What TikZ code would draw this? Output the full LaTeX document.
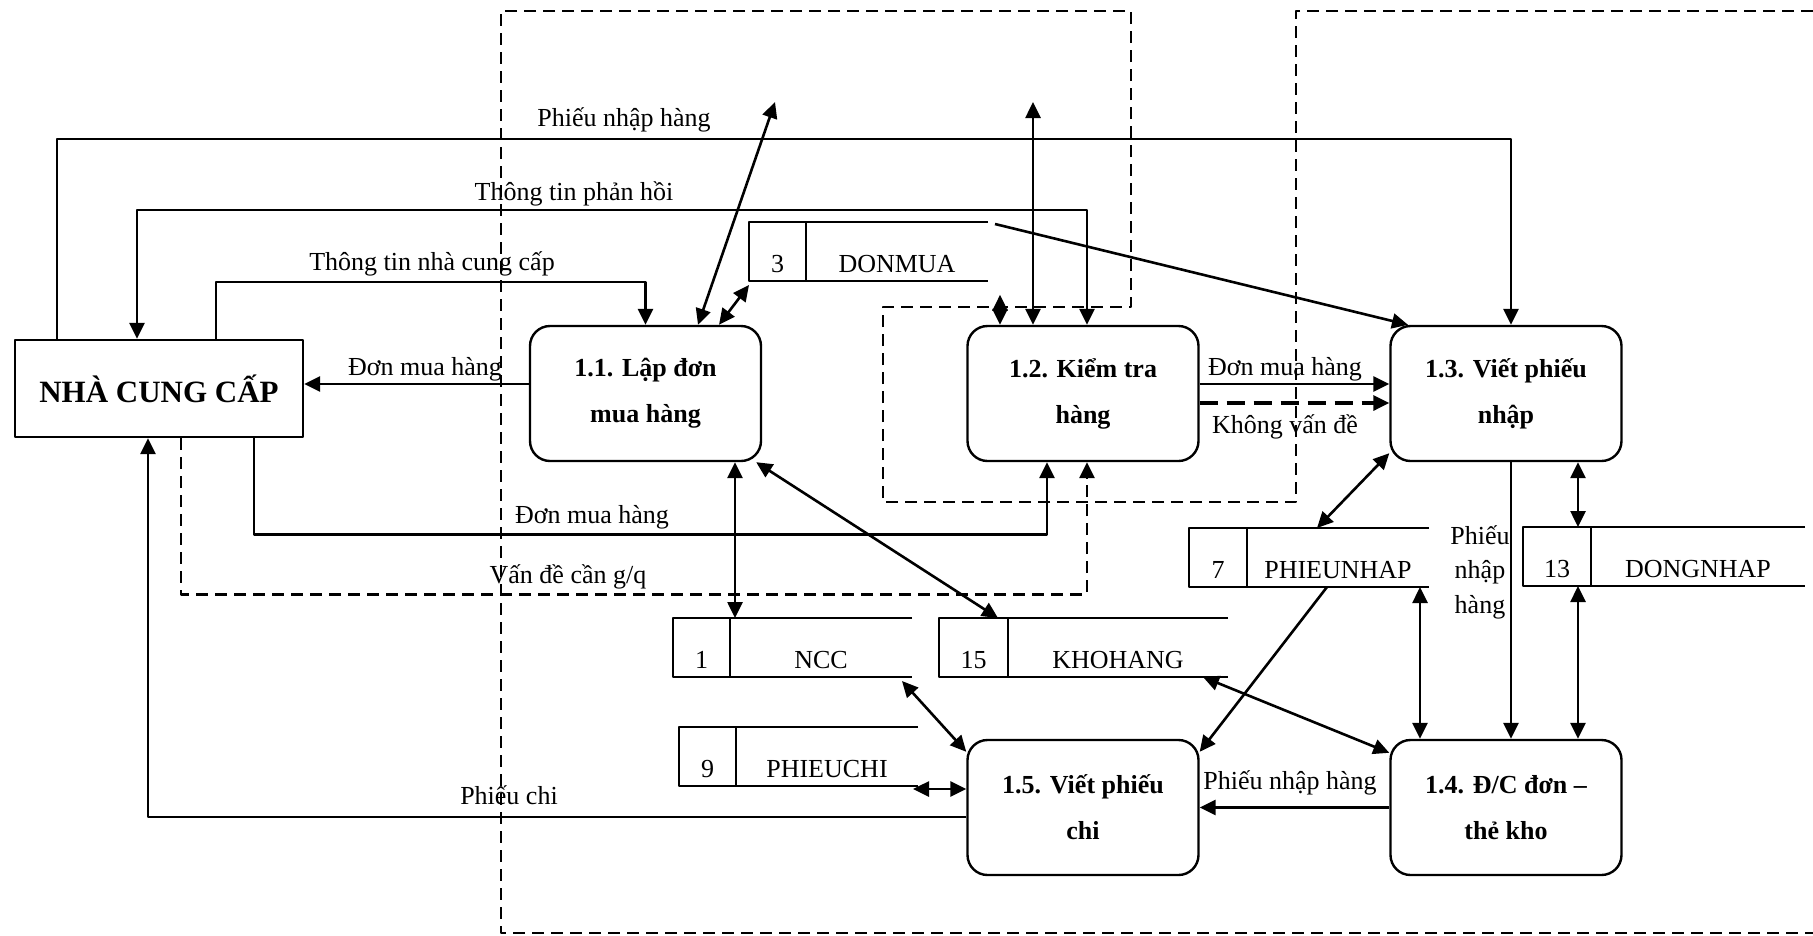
\documentclass[tikz,border=0pt]{standalone}
\usepackage{fontspec}
\setmainfont{Liberation Serif}
\usetikzlibrary{arrows.meta}

\begin{document}
\begin{tikzpicture}[x=1pt, y=-1pt, line join=round, line width=2.6pt,
		font=\fontsize{26}{31}\selectfont, >={Triangle[length=16pt,width=15pt]},
		proc/.style={draw, line width=2.4pt, rounded corners=20pt, minimum width=231pt, minimum height=135pt,
			inner sep=0pt, align=center, font=\fontsize{26}{46}\selectfont\bfseries},
		ext/.style={draw, line width=2.4pt, minimum width=288pt, minimum height=97pt, inner sep=0pt,
			font=\fontsize{31}{37}\selectfont\bfseries},
		store/.style={line width=2.4pt},
		lbl/.style={anchor=base, inner sep=0pt},
		bound/.style={line width=2.2pt, dash pattern=on 12pt off 7pt},
		gq/.style={dash pattern=on 12pt off 7pt},
		ok/.style={line width=3.2pt, dash pattern=on 18pt off 9pt}]
	\useasboundingbox (0,0) rectangle (1813,935);

	\draw[bound] (1813,11) -- (1296,11) -- (1296,502) -- (883,502) -- (883,307) -- (1131,307)
		-- (1131,11) -- (501,11) -- (501,933) -- (1813,933);

	\node[ext] (ncc) at (159,388.5) {NHÀ CUNG CẤP};
	\node[proc] (p11) at (645.5,393.5) {1.1. Lập đơn\\mua hàng};
	\node[proc] (p12) at (1083,393.5) {1.2. Kiểm tra\\hàng};
	\node[proc] (p13) at (1506,393.5) {1.3. Viết phiếu\\nhập};
	\node[proc] (p14) at (1506,807.5) {1.4. Đ/C đơn –\\thẻ kho};
	\node[proc] (p15) at (1083,807.5) {1.5. Viết phiếu\\chi};

	\foreach \sn/\xl/\yt/\xr/\xd/\sid/\slab in {dm/749/222/988/806/3/DONMUA,
			nc/673/618/912/730/1/NCC, kh/939/618/1228/1008/15/KHOHANG,
			pc/679/727/918/736/9/PHIEUCHI, pn/1189/528/1429/1247/7/PHIEUNHAP,
			dn/1523/527/1805/1591/13/DONGNHAP} {
		\coordinate (\sn-nw) at (\xl,\yt);
		\coordinate (\sn-ne) at (\xr,\yt);
		\coordinate (\sn-sw) at (\xl,\yt+59);
		\coordinate (\sn-se) at (\xr,\yt+59);
		\draw[store] (\sn-ne) -- (\sn-nw) -- (\sn-sw) -- (\sn-se);
		\draw[store] (\xd,\yt) -- (\xd,\yt+59);
		\node[lbl] (\sn-id) at ({(\xl+\xd)/2},\yt+50) {\sid};
		\node[lbl] (\sn) at ({(\xd+\xr)/2},\yt+50) {\slab};
	}

	\coordinate (up1) at (775,102);
	\coordinate (up2) at (1033,102);

	\draw[->] ([xshift=-102pt]ncc.north) -- ++(0,-200) -| ([xshift=5pt]p13.north);
	\node[lbl] at (624,126) {Phiếu nhập hàng};
	\draw[<->] ([xshift=-22pt]ncc.north) -- ++(0,-129) -| ([xshift=4pt]p12.north);
	\node[lbl] at (574,200) {Thông tin phản hồi};
	\draw[->] ([xshift=57pt]ncc.north) -- ++(0,-57) -| (p11.north);
	\node[lbl] at (432,270) {Thông tin nhà cung cấp};
	\draw[->] ([yshift=9.5pt]p11.west) -- ([yshift=9.5pt]p11.west -| ncc.east);
	\node[lbl] at (425,375) {Đơn mua hàng};

	\draw[<->] ([xshift=52.5pt]p11.north) -- (up1);
	\draw[<->] ([xshift=73.5pt]p11.north) -- ([yshift=-4pt]dm-sw);
	\draw[->] ([xshift=7pt,yshift=-2pt]dm-ne) -- ([xshift=-98pt]p13.north);
	\draw[<->] ([xshift=-50pt]p12.north) -- (up2);
	\draw[<->] ([xshift=-83pt]p12.north) -- ++(0,-30);

	\draw[->] ([yshift=9.5pt]p12.east) -- ([yshift=9.5pt]p13.west);
	\node[lbl] at (1285,375) {Đơn mua hàng};
	\draw[->, ok] ([yshift=-9.5pt]p12.east) -- ([yshift=-9.5pt]p13.west);
	\node[lbl] at (1285,433) {Không vấn đề};

	\draw[->] ([xshift=95pt]ncc.south) -- ++(0,96) -| ([xshift=-36pt]p12.south);
	\node[lbl] at (592,523) {Đơn mua hàng};
	\draw[->, gq] ([xshift=22pt]ncc.south) -- ++(0,156) -| ([xshift=4pt]p12.south);
	\node[lbl] at (568,583) {Vấn đề cần g/q};
	\draw[->] ([yshift=-9.5pt]p15.west) -| ([xshift=-11pt]ncc.south);
	\node[lbl] at (509,804) {Phiếu chi};

	\draw[<->] ([xshift=89.5pt]p11.south) -- ([xshift=89.5pt]p11.south |- nc-nw);
	\draw[<->] ([xshift=-6pt]p11.south east) -- ([xshift=59pt]kh-nw);
	\draw[<->] ([xshift=-10pt,yshift=-4pt]nc-se) -- ([yshift=-13pt]p15.north west);
	\draw[<->] ([xshift=-5pt,yshift=-3pt]pc-se) -- ([yshift=18.5pt]p15.west);
	\draw[->] ([xshift=-102pt]pn-se) -- ([yshift=-13pt]p15.north east);

	\draw[<->] ([yshift=9pt]p13.south west) -- ([xshift=128pt]pn-nw);
	\draw[<->] ([xshift=-86pt]p14.north) -- ([xshift=-86pt]p14.north |- pn-sw);
	\draw[->] ([xshift=5pt]p13.south) -- ([xshift=5pt]p14.north);
	\node[align=center, inner sep=0pt, font=\fontsize{26}{34.5}\selectfont] at (1480,572) {Phiếu\\nhập\\hàng};
	\draw[<->] ([xshift=72pt]p13.south) -- ([xshift=72pt]p13.south |- dn-nw);
	\draw[<->] ([xshift=72pt]p14.north) -- ([xshift=72pt]p14.north |- dn-sw);
	\draw[<->] ([xshift=-25pt]kh-se) -- ([yshift=-14pt]p14.north west);
	\draw[->] (p14.west) -- (p15.east);
	\node[lbl] at (1290,789) {Phiếu nhập hàng};
\end{tikzpicture}
\end{document}
